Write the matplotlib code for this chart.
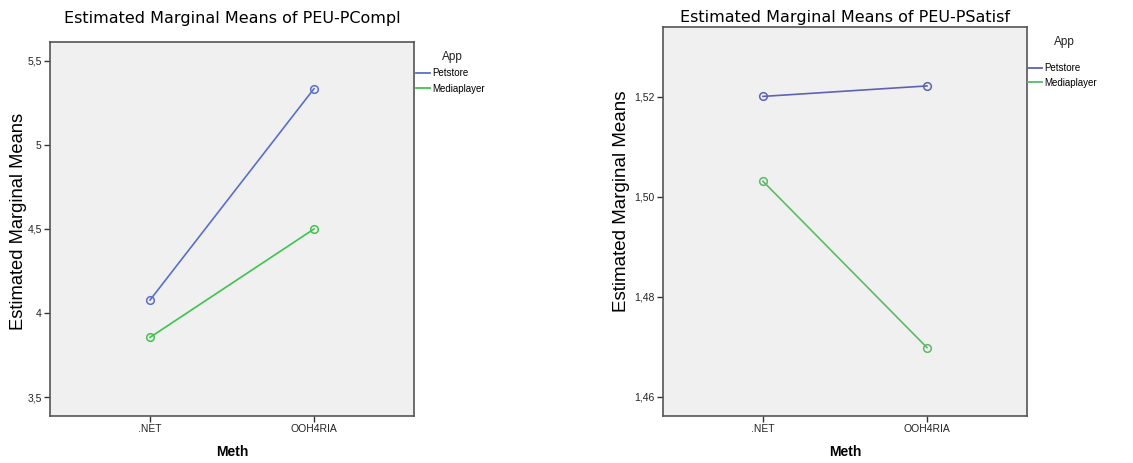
import matplotlib
matplotlib.use("Agg")
import matplotlib.pyplot as plt
from matplotlib.ticker import FuncFormatter

methods = [".NET", "OOH4RIA"]
apps = ["Petstore", "Mediaplayer"]
compl_petstore = [4.077, 5.335]
compl_mediaplayer = [3.855, 4.50]
satisf_petstore = [1.5201, 1.5222]
satisf_mediaplayer = [1.5031, 1.4698]

colors_left = ["#5a6fc8", "#3ec44c"]
colors_right = ["#5d63b2", "#5cba68"]
W, H = 1133, 463
fig = plt.figure(figsize=(W / 100, H / 100), dpi=100)

def px_axes(x0, y0, x1, y1):
    return fig.add_axes([x0 / W, (H - y1) / H, (x1 - x0) / W, (y1 - y0) / H])

def comma(v, nd):
    s = f"{v:.{nd}f}" if nd else f"{v:g}"
    return s.replace(".", ",")

def draw(ax, series, colors):
    for vals, name, c in zip(series, apps, colors):
        ax.plot(range(len(methods)), vals, color=c, lw=1.2, marker="o", markersize=5.5,
                markerfacecolor="none", markeredgecolor=c, markeredgewidth=1.1)
    handles = [plt.Line2D([], [], color=c, lw=1.3) for c in colors]
    return handles

def style(ax, handles, title, ylim, yticks, nd, title_pad, ylabel_fs, ylabel_pos,
          leg_anchor, leg_spacing, app_pos):
    ax.set_facecolor("#f0f0f0")
    for s in ax.spines.values():
        s.set_color("#555555")
        s.set_linewidth(1.2)
    ax.set_xlim(-0.61, 1.61)
    ax.set_ylim(*ylim)
    ax.set_xticks(range(len(methods)))
    ax.set_xticklabels(methods, family="Liberation Sans", fontsize=7.5, color="#222222")
    ax.set_yticks(yticks)
    ax.yaxis.set_major_formatter(FuncFormatter(lambda v, p: comma(v, nd)))
    for lab in ax.get_yticklabels():
        lab.set_family("Liberation Sans")
        lab.set_color("#222222")
    ax.tick_params(axis="both", direction="out", length=4, width=1, color="#333333",
                   labelsize=7.5, pad=2)
    ax.set_xlabel("Meth", family="Liberation Sans", fontweight="bold", fontsize=10, labelpad=8)
    ax.set_ylabel("Estimated Marginal Means", family="Liberation Sans", fontsize=ylabel_fs)
    ax.yaxis.set_label_coords(*ylabel_pos)
    ax.set_title(title, family="DejaVu Sans", fontsize=11.5, pad=title_pad)
    leg = ax.legend(handles, apps, loc="upper left", bbox_to_anchor=leg_anchor,
                    frameon=False, fontsize=7,
                    handlelength=1.5, handletextpad=0.15, borderpad=0,
                    borderaxespad=0, labelspacing=leg_spacing)
    for t in leg.get_texts():
        t.set_family("Liberation Sans")
    ax.text(app_pos[0], app_pos[1], "App", transform=ax.transAxes, ha="center", va="center",
            family="Liberation Sans", fontsize=8.5, color="#222222")

ax1 = px_axes(50, 42, 414, 416)
h1 = draw(ax1, [compl_petstore, compl_mediaplayer], colors_left)
style(ax1, h1, "Estimated Marginal Means of PEU-PCompl", (3.387, 5.613),
      [3.5, 4, 4.5, 5, 5.5], 0, 14, 13.2, (-0.063, 0.52),
      (1.005, 0.93), 0.55, ((452 - 50) / 364, (416 - 57) / 374))

ax2 = px_axes(663, 27, 1027, 416)
h2 = draw(ax2, [satisf_petstore, satisf_mediaplayer], colors_right)
style(ax2, h2, "Estimated Marginal Means of PEU-PSatisf", (1.4561, 1.534),
      [1.46, 1.48, 1.50, 1.52], 2, 3.5, 13.5, (-0.092, 0.553),
      (1.002, 0.907), 0.45, ((1064 - 663) / 364, (416 - 42) / 389))

fig.savefig("out.png", dpi=100, facecolor="white")
